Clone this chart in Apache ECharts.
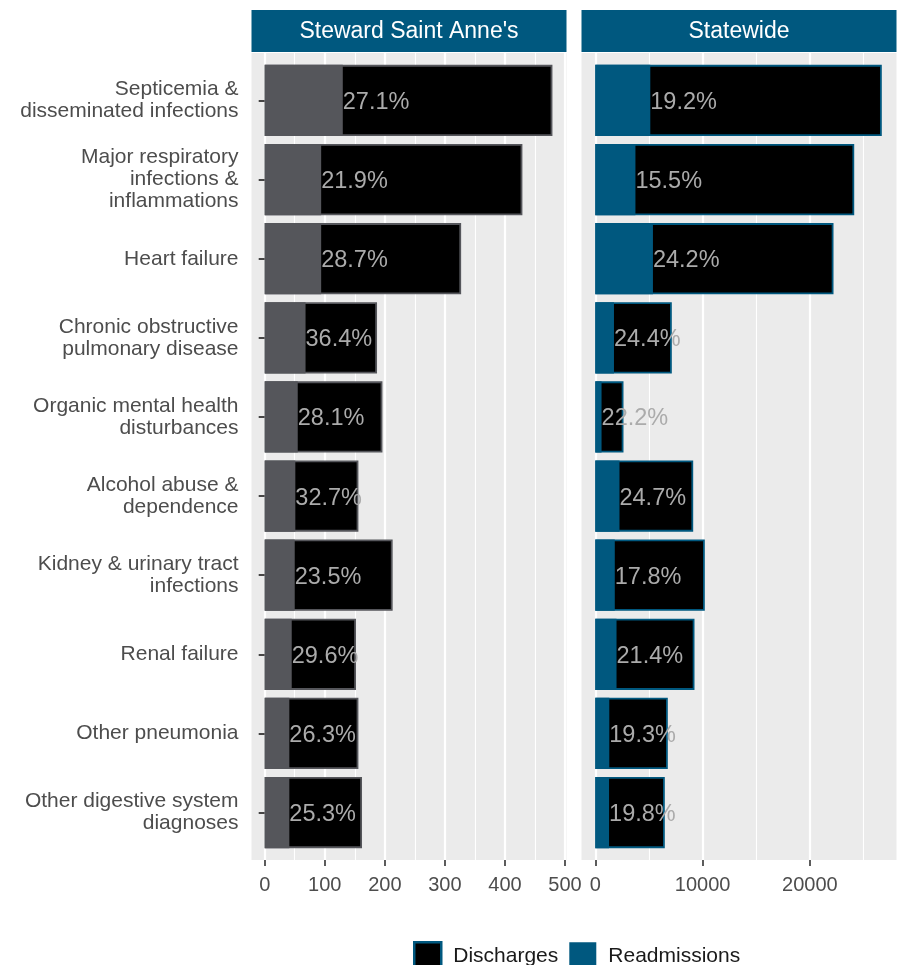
<!DOCTYPE html>
<html>
<head>
<meta charset="utf-8">
<script src="https://cdn.jsdelivr.net/npm/echarts@6/dist/echarts.min.js"></script>
<style>
html,body{margin:0;padding:0;background:#fff;}
#chart{width:901px;height:965px;}
</style>
</head>
<body>
<div id="chart"></div>
<script>
const categories = [
  'Septicemia &\ndisseminated infections',
  'Major respiratory\ninfections &\ninflammations',
  'Heart failure',
  'Chronic obstructive\npulmonary disease',
  'Organic mental health\ndisturbances',
  'Alcohol abuse &\ndependence',
  'Kidney & urinary tract\ninfections',
  'Renal failure',
  'Other pneumonia',
  'Other digestive system\ndiagnoses'
];
const panelTitles = ["Steward Saint Anne's", 'Statewide'];
const dischargesSteward = [479, 429, 327, 187, 196, 156, 213, 152, 156, 162];
const readmissionsSteward = [130, 94, 94, 68, 55, 51, 50, 45, 41, 41];
const pctSteward = ['27.1%','21.9%','28.7%','36.4%','28.1%','32.7%','23.5%','29.6%','26.3%','25.3%'];
const dischargesStatewide = [26700, 24130, 22200, 7130, 2628, 9124, 10205, 9245, 6757, 6477];
const readmissionsStatewide = [5126, 3740, 5372, 1740, 583, 2254, 1816, 1978, 1304, 1282];
const pctStatewide = ['19.2%','15.5%','24.2%','24.4%','22.2%','24.7%','17.8%','21.4%','19.3%','19.8%'];
const leftTickStep = 100, leftMax = 500;
const rightTickStep = 10000, rightMax = 20000;

const FONT = '"Liberation Sans", Arial, sans-serif';
const BLUE = '#00587F';
const GREY = '#55565B';
const LABEL = '#ABABAB';
const AXIS_TEXT = '#4D4D4D';

// layout (pixels)
const PT = 53, PH = 807;
const band = PH / 10.2;
const BT = PT + 0.1 * band, BH = band * 10;
const L = {x0: 251.5, w: 315, zero: 264.7, ppu: 0.6007};
const R = {x0: 581.5, w: 315, zero: 595.3, ppu: 0.01073};
function vmin(p){ return (p.x0 - p.zero) / p.ppu; }
function vmax(p){ return (p.x0 + p.w - p.zero) / p.ppu; }

const chart = echarts.init(document.getElementById('chart'), null, {renderer: 'canvas'});

const hiddenX = (gi, min, max) => ({type: 'value', gridIndex: gi, min: min, max: max, show: false});

const grids = [
  {left: L.x0, top: PT, width: L.w, height: PH, show: true, backgroundColor: '#EBEBEB', borderWidth: 0},
  {left: R.x0, top: PT, width: R.w, height: PH, show: true, backgroundColor: '#EBEBEB', borderWidth: 0},
  {left: L.zero + 50 * L.ppu, top: PT, width: 400 * L.ppu, height: PH},
  {left: R.zero + 5000 * R.ppu, top: PT, width: 20000 * R.ppu, height: PH},
  {left: L.zero, top: PT, width: leftMax * L.ppu, height: PH},
  {left: R.zero, top: PT, width: rightMax * R.ppu, height: PH},
  {left: L.x0, top: BT, width: L.w, height: BH},
  {left: R.x0, top: BT, width: R.w, height: BH}
];

const minorAxis = (gi, min, max, step) => ({
  type: 'value', gridIndex: gi, min: min, max: max, interval: step,
  axisLine: {show: false}, axisTick: {show: false}, axisLabel: {show: false},
  splitLine: {show: true, lineStyle: {color: '#FFFFFF', width: 1.1}}
});
const majorAxis = (gi, max, step) => ({
  type: 'value', gridIndex: gi, min: 0, max: max, interval: step,
  axisLine: {show: false},
  axisTick: {show: true, length: 6, lineStyle: {color: '#333333', width: 1.6}},
  axisLabel: {show: true, fontSize: 20, color: AXIS_TEXT, fontFamily: FONT, margin: 15,
              formatter: v => String(v)},
  splitLine: {show: true, lineStyle: {color: '#FFFFFF', width: 2.2}}
});

const xAxes = [
  hiddenX(0, 0, 1), hiddenX(1, 0, 1),
  minorAxis(2, 50, 450, leftTickStep),
  minorAxis(3, 5000, 25000, rightTickStep),
  majorAxis(4, leftMax, leftTickStep),
  majorAxis(5, rightMax, rightTickStep),
  hiddenX(6, vmin(L), vmax(L)),
  hiddenX(7, vmin(R), vmax(R))
];

const yAxes = [0,1,2,3,4,5].map(i => ({type: 'value', gridIndex: i, show: false}));
yAxes.push({
  type: 'category', gridIndex: 6, data: categories, inverse: true,
  axisLine: {show: false},
  axisTick: {show: true, alignWithLabel: true, length: 6, lineStyle: {color: '#333333', width: 1.8}},
  axisLabel: {fontSize: 21, color: AXIS_TEXT, fontFamily: FONT, margin: 13, align: 'right', lineHeight: 22},
  splitLine: {show: false}
});
yAxes.push({
  type: 'category', gridIndex: 7, data: categories, inverse: true,
  axisLine: {show: false}, axisTick: {show: false}, axisLabel: {show: false}, splitLine: {show: false}
});

function labelFor(arr){
  return {
    show: true, position: 'right', distance: 0, offset: [0, 2],
    formatter: p => arr[p.dataIndex],
    color: LABEL, fontSize: 23.5, fontFamily: FONT
  };
}

const series = [
  {name: 'Discharges', type: 'bar', xAxisIndex: 6, yAxisIndex: 6, data: dischargesSteward,
   barCategoryGap: '10%', barGap: '-100%',
   itemStyle: {color: '#000000', borderColor: GREY, borderWidth: 1.8}},
  {name: 'Readmissions', type: 'bar', xAxisIndex: 6, yAxisIndex: 6, data: readmissionsSteward,
   barCategoryGap: '10%', barGap: '-100%',
   itemStyle: {color: GREY, borderWidth: 0},
   label: labelFor(pctSteward)},
  {name: 'Discharges', type: 'bar', xAxisIndex: 7, yAxisIndex: 7, data: dischargesStatewide,
   barCategoryGap: '10%', barGap: '-100%',
   itemStyle: {color: '#000000', borderColor: BLUE, borderWidth: 1.8}},
  {name: 'Readmissions', type: 'bar', xAxisIndex: 7, yAxisIndex: 7, data: readmissionsStatewide,
   barCategoryGap: '10%', barGap: '-100%',
   itemStyle: {color: BLUE, borderWidth: 0},
   label: labelFor(pctStatewide)}
];

const strips = [L, R].map((p, i) => ({
  type: 'group',
  children: [
    {type: 'rect', shape: {x: p.x0, y: 10, width: p.w, height: 42}, style: {fill: BLUE}},
    {type: 'text', x: p.x0 + p.w / 2, y: 32,
     style: {text: panelTitles[i], fill: '#FFFFFF', font: '23px ' + FONT, align: 'center', verticalAlign: 'middle'}}
  ]
}));

chart.setOption({
  animation: false,
  backgroundColor: '#FFFFFF',
  grid: grids,
  xAxis: xAxes,
  yAxis: yAxes,
  series: series,
  legend: {
    left: 408, top: 936,
    itemWidth: 27, itemHeight: 27, itemGap: 11,
    icon: 'rect',
    textStyle: {fontSize: 21, color: '#1A1A1A', fontFamily: FONT, padding: [0, 0, 0, 7]},
    data: [
      {name: 'Discharges', itemStyle: {color: '#000000', borderColor: BLUE, borderWidth: 2.5}},
      {name: 'Readmissions', itemStyle: {color: BLUE, borderWidth: 0}}
    ],
    selectedMode: false
  },
  graphic: strips
});
</script>
</body>
</html>
